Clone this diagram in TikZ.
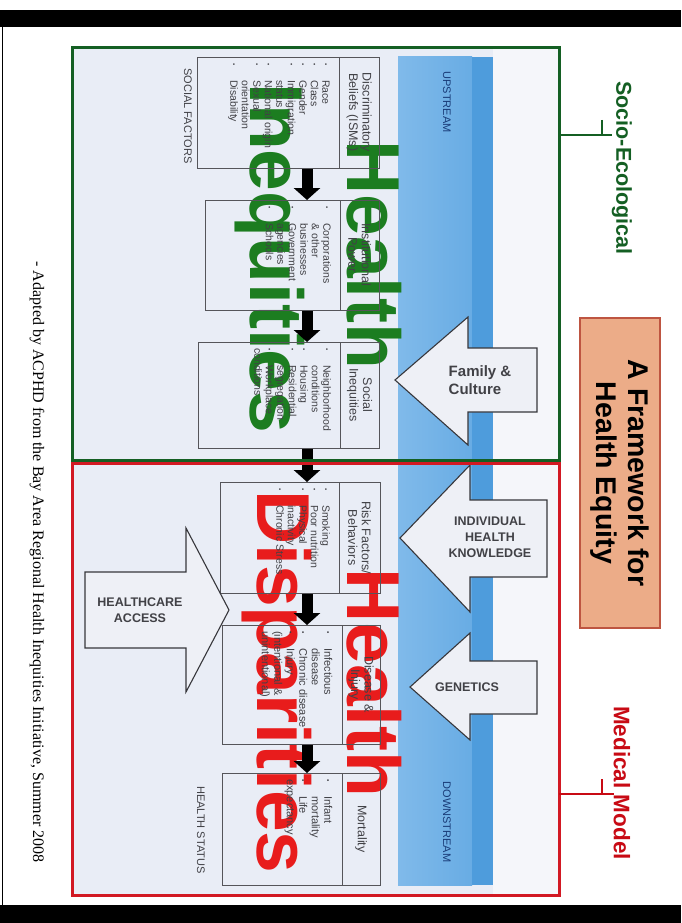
\documentclass[tikz,border=0pt]{standalone}
\usepackage{fontspec}
\setmainfont{Liberation Sans}
\newfontfamily\footserif{Liberation Serif}
\usepackage{graphicx}
\usetikzlibrary{arrows.meta}

\definecolor{boxgreen}{RGB}{20,95,35}
\definecolor{boxred}{RGB}{210,25,35}
\definecolor{biggreen}{RGB}{28,125,32}
\definecolor{bigred}{RGB}{232,28,28}
\definecolor{bandleft}{RGB}{128,186,234}
\definecolor{bandmid}{RGB}{104,172,228}
\definecolor{bandright}{RGB}{78,156,220}
\definecolor{bgpale}{RGB}{233,237,246}
\definecolor{bgwhite}{RGB}{245,246,250}
\definecolor{txtgray}{RGB}{65,65,70}
\definecolor{boxline}{RGB}{85,85,90}
\definecolor{titlefill}{RGB}{236,172,136}
\definecolor{titleedge}{RGB}{190,85,65}
\definecolor{streamblue}{RGB}{25,60,120}
\definecolor{arrowfill}{RGB}{238,240,246}
\definecolor{arrowedge}{RGB}{55,55,60}
\definecolor{modelred}{RGB}{200,10,20}

\hyphenpenalty=10000
\exhyphenpenalty=10000
\lefthyphenmin=62
\righthyphenmin=62

\newcommand{\bitem}[1]{\par\noindent\hangindent=17pt\hangafter=1\makebox[17pt][l]{\raisebox{1.5pt}{\scalebox{0.6}{\textbullet}}}#1}

\tikzset{
  stagebox/.style={draw=boxline, line width=0.9pt, inner sep=0pt, anchor=north west},
  hdrtext/.style={rotate=-90, align=center, font=\fontsize{12.5}{13.5}\selectfont, text=txtgray, inner sep=0pt},
  bodytext/.style={rotate=-90, anchor=north west, align=left, font=\fontsize{10.5}{11.5}\selectfont, text=txtgray, inner sep=0pt},
  flowarrow/.style={draw=black, line width=11pt, -{Triangle[width=26pt,length=12pt]}},
  blockarrow/.style={draw=arrowedge, fill=arrowfill, line width=1.1pt, line join=miter},
  blocklabel/.style={font=\bfseries\fontsize{12.5}{16}\selectfont, text=txtgray, align=center, inner sep=0pt},
  bigword/.style={rotate=-90, anchor=base west, inner sep=0pt, font=\bfseries\fontsize{75}{80}\selectfont},
  sidelabel/.style={rotate=-90, inner sep=0pt, font=\bfseries\fontsize{21.5}{23}\selectfont},
  smallcaps/.style={rotate=-90, inner sep=0pt, font=\fontsize{11}{12}\selectfont},
}

\begin{document}
\begin{tikzpicture}[x=1pt,y=-1pt]
\useasboundingbox (0,0) rectangle (681,923);
\fill[white] (0,0) rectangle (681,923);

% slide frame
\fill[black] (0,10) rectangle (681,27);
\fill[black] (0,905) rectangle (681,923);
\draw[black, line width=1.5pt] (2.5,27) -- (2.5,905);

% backgrounds
\fill[bgpale] (72,48) rectangle (559,895);
\fill[bgwhite] (493,48) rectangle (559,895);

% blue band
\shade[left color=bandleft, right color=bandmid] (398,57) rectangle (472,885);
\fill[bandright] (472,57) rectangle (493,885);

% stream labels
\node[smallcaps, text=streamblue] (up) at (447,102) {UPSTREAM};
\node[smallcaps, text=streamblue] (down) at (447,822) {DOWNSTREAM};

% big overlay words
\node[bigword, text=biggreen] (gh) at (347,140) {Health};
\node[bigword, text=biggreen] (gi) at (250,83) {Inequities};
\node[bigword, text=bigred] (rh) at (347,568) {Health};
\node[bigword, text=bigred] (rd) at (257,490) {Disparities};

% stage boxes
\node[stagebox, minimum width=182pt, minimum height=111pt] (b1) at (197,57) {};
\draw[boxline, line width=0.9pt] (339,57) -- (339,168);
\node[hdrtext] (h1) at (359,112.5) {Discriminatory\\Beliefs (ISMs)};
\node[bodytext, text width=90pt] (t1) at (334,63) {\bitem{Race}\bitem{Class}\bitem{Gender}\bitem{Immigration status}\bitem{National origin}\bitem{Sexual orientation}\bitem{Disability}};

\node[stagebox, minimum width=174pt, minimum height=110pt] (b2) at (205,200) {};
\draw[boxline, line width=0.9pt] (340,200) -- (340,310);
\node[hdrtext] (h2) at (359.5,255) {Institutional\\Power};
\node[bodytext, text width=90pt] (t2) at (335,206) {\bitem{Corporations \& other businesses}\bitem{Government agencies}\bitem{Schools}};

\node[stagebox, minimum width=181pt, minimum height=106pt] (b3) at (198,342) {};
\draw[boxline, line width=0.9pt] (340,342) -- (340,448);
\node[hdrtext] (h3) at (359.5,395) {Social\\Inequities};
\node[bodytext, text width=90pt] (t3) at (335,348) {\bitem{Neighborhood conditions}\bitem{Housing}\bitem{Residential segregation}\bitem{Workplace conditions}};

\node[stagebox, minimum width=160pt, minimum height=111pt] (b4) at (220,482) {};
\draw[boxline, line width=0.9pt] (339,482) -- (339,593);
\node[hdrtext] (h4) at (359.5,537.5) {Risk Factors/\\Behaviors};
\node[bodytext, text width=90pt] (t4) at (334,488) {\bitem{Smoking}\bitem{Poor nutrition}\bitem{Physical inactivity}\bitem{Chronic Stress}};

\node[stagebox, minimum width=158pt, minimum height=119pt] (b5) at (222,625) {};
\draw[boxline, line width=0.9pt] (342,625) -- (342,744);
\node[hdrtext] (h5) at (361,684.5) {Disease \&\\Injury};
\node[bodytext, text width=100pt, font=\fontsize{11}{12.5}\selectfont] (t5) at (337,631) {\bitem{Infectious disease}\bitem{Chronic disease}\bitem{Injury (intentional \& unintentional)}};

\node[stagebox, minimum width=158pt, minimum height=112pt] (b6) at (222,773) {};
\draw[boxline, line width=0.9pt] (342,773) -- (342,885);
\node[hdrtext] (h6) at (361,829) {Mortality};
\node[bodytext, text width=80pt, font=\fontsize{11}{12.5}\selectfont] (t6) at (337,779) {\bitem{Infant mortality}\bitem{Life expectancy}};

% flow arrows
\coordinate (ax) at (307,0);
\draw[flowarrow] (b1.south -| ax) -- (b2.north -| ax);
\draw[flowarrow] (b2.south -| ax) -- (b3.north -| ax);
\draw[flowarrow] (b3.south -| ax) -- (b4.north -| ax);
\draw[flowarrow] (b4.south -| ax) -- (b5.north -| ax);
\draw[flowarrow] (b5.south -| ax) -- (b6.north -| ax);

% side labels
\node[smallcaps, text=txtgray] (sf) at (188,116) {SOCIAL FACTORS};
\node[smallcaps, text=txtgray] (hs) at (201,830) {HEALTH STATUS};

% block arrows
\draw[blockarrow] (395,380) -- (468,317) -- (468,348) -- (537,348) -- (537,412) -- (468,412) -- (468,445) -- cycle;
\node[blocklabel, font=\bfseries\fontsize{15}{18}\selectfont, align=left] (fam) at (480,380) {Family \&\\Culture};

\draw[blockarrow] (400,538) -- (470,465) -- (470,500) -- (547,500) -- (547,577) -- (470,577) -- (470,612) -- cycle;
\node[blocklabel] (ihk) at (490,537) {INDIVIDUAL\\HEALTH\\KNOWLEDGE};

\draw[blockarrow] (410,687) -- (470,633) -- (470,661) -- (537,661) -- (537,714) -- (470,714) -- (470,740) -- cycle;
\node[blocklabel] (gen) at (467,687) {GENETICS};

\draw[blockarrow] (229,610) -- (186,528) -- (186,572) -- (85,572) -- (85,648) -- (186,648) -- (186,692) -- cycle;
\node[blocklabel] (hca) at (140,610) {HEALTHCARE\\ACCESS};

% region boxes
\draw[boxgreen, line width=3pt] (72,48) rectangle (559,460);
\draw[boxred, line width=3pt] (72,463) rectangle (559,895);

% title
\node[draw=titleedge, line width=1.2pt, fill=titlefill, minimum width=80pt, minimum height=310pt, inner sep=0pt] (titlebox) at (620,473) {};
\node[rotate=-90, align=center, inner sep=0pt, font=\bfseries\fontsize{28.5}{32}\selectfont] (title) at (titlebox.center) {A Framework for\\Health Equity};

% model labels
\node[sidelabel, text=boxgreen] (socio) at (622,168) {Socio-Ecological};
\coordinate (gt) at (559,135);
\coordinate (gk) at (602,120);
\draw[boxgreen, line width=2.5pt] (gt) -- (socio.south |- gt);
\draw[boxgreen, line width=1.2pt] (gk) -- (gk |- gt);
\node[sidelabel, text=modelred, font=\bfseries\fontsize{22.5}{24}\selectfont] (medical) at (622,783) {Medical Model};
\coordinate (rt) at (559,794);
\coordinate (rk) at (602,779);
\draw[modelred, line width=2.5pt] (rt) -- (medical.south |- rt);
\draw[modelred, line width=1.2pt] (rk) -- (rk |- rt);

% footnote
\node[rotate=-90, inner sep=0pt, font=\footserif\fontsize{16}{18}\selectfont] (foot) at (37,562) {- Adapted by ACPHD from the Bay Area Regional Health Inequities Initiative, Summer 2008};
\end{tikzpicture}
\end{document}
